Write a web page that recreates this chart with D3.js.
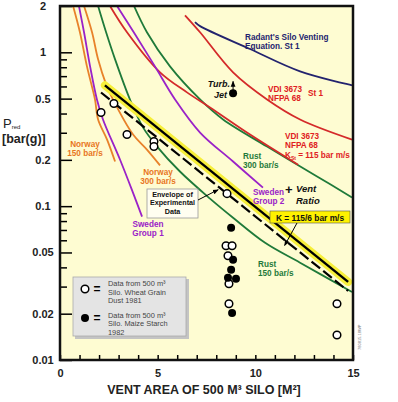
<!DOCTYPE html>
<html>
<head>
<meta charset="utf-8">
<script src="https://cdn.jsdelivr.net/npm/d3@7"></script>
<style>
body { margin: 0; background: #fff; }
text { font-family: Arial, "Liberation Sans", sans-serif; }
</style>
</head>
<body>
<svg id="chart" width="398" height="402"></svg>
<script>
// curves, pairs of [vent area m2, Pred bar(g)]
const norway150 = [[0.67, 2.0], [1.02, 1.35], [1.38, 0.81], [1.79, 0.494], [1.95, 0.366], [2.41, 0.271], [2.82, 0.195]];
const swedenGroup1 = [[0.97, 2.0], [1.23, 1.35], [1.54, 0.81], [1.89, 0.494], [2.2, 0.366], [3.07, 0.201], [3.74, 0.122], [4.2, 0.0855]];
const norway300 = [[1.23, 2.0], [1.64, 1.35], [1.95, 0.9], [2.36, 0.619], [2.71, 0.494], [3.74, 0.292], [4.45, 0.233], [5.12, 0.184]];
const rust150 = [[1.95, 2.0], [2.36, 1.35], [2.82, 0.9], [3.58, 0.494], [4.25, 0.325], [4.97, 0.244], [6.14, 0.168], [7.68, 0.112], [8.86, 0.0841], [10.5, 0.0578], [12.29, 0.0429], [14.95, 0.0277]];
const rust300 = [[3.79, 2.0], [4.45, 1.35], [5.63, 0.81], [7.17, 0.494], [8.35, 0.366], [10.6, 0.244], [13.16, 0.156], [14.95, 0.114]];
const vdiKst115 = [[2.56, 2.0], [3.43, 1.35], [5.12, 0.741], [6.5, 0.549], [7.68, 0.438], [9.73, 0.292], [12.19, 0.186]];
const swedenGroup2 = [[2.92, 2.0], [3.84, 1.31], [4.86, 0.81], [5.89, 0.494], [7.17, 0.301], [8.86, 0.195], [10.39, 0.132]];
const vdiSt1 = [[6.4, 1.74], [7.17, 1.35], [8.86, 0.741], [10.6, 0.494], [12.29, 0.366], [14.95, 0.271]];
const radant = [[6.91, 1.57], [7.17, 1.48], [9.73, 1.05], [12.29, 0.752], [14.95, 0.61]];

// straight lines
const kLine = [[2.3, 0.61], [14.75, 0.0322]];
const envelope = [[2.1, 0.548], [14.75, 0.0281]];

// test points
const wheatDust1981 = [[2.1, 0.406], [2.76, 0.465], [3.43, 0.292], [4.81, 0.263], [4.81, 0.244], [8.55, 0.1206],
  [8.5, 0.0553], [8.81, 0.0553], [8.6, 0.0476], [8.65, 0.0313], [8.65, 0.0232], [14.18, 0.0232], [14.18, 0.01455]];
const maizeStarch1982 = [[8.76, 0.0724], [8.86, 0.0448], [8.76, 0.0386], [8.6, 0.0342], [9.01, 0.0337], [8.81, 0.0202]];
const turbJet = [[8.86, 0.541]];

// ticks
const yMajor = [0.01, 0.02, 0.05, 0.1, 0.2, 0.5, 1, 2];
const yMinor = [0.03, 0.04, 0.06, 0.07, 0.08, 0.09, 0.3, 0.4, 0.6, 0.7, 0.8, 0.9];
const xTicks = d3.range(0, 16);

const svg = d3.select("#chart");
const pl = 60, pr = 353, pt = 6, pb = 360;

const x = d3.scaleLinear().domain([0, 15]).range([pl, pr]);
const y = d3.scaleLog().domain([0.01, 2]).range([pb, pt]);

// plot background
svg.append("rect")
  .attr("x", pl).attr("y", pt)
  .attr("width", pr - pl).attr("height", pb - pt)
  .attr("fill", "#fefcd2");

svg.append("clipPath").attr("id", "plotclip")
  .append("rect")
  .attr("x", pl).attr("y", pt)
  .attr("width", pr - pl).attr("height", pb - pt);

const plot = svg.append("g").attr("clip-path", "url(#plotclip)");

// y axis, ticks pointing inward
svg.append("g")
  .attr("transform", "translate(" + pl + ",0)")
  .call(d3.axisLeft(y).tickValues(yMinor).tickSizeInner(-7).tickSizeOuter(0).tickFormat(""))
  .call(g => g.select(".domain").remove())
  .call(g => g.selectAll("line").attr("stroke", "#000").attr("stroke-width", 1.5));

svg.append("g")
  .attr("transform", "translate(" + pl + ",0)")
  .call(d3.axisLeft(y).tickValues(yMajor).tickSizeInner(-12).tickSizeOuter(0).tickPadding(17).tickFormat(d3.format("")))
  .call(g => g.select(".domain").remove())
  .call(g => g.selectAll("line").attr("stroke", "#000").attr("stroke-width", 1.5))
  .call(g => g.selectAll("text")
    .attr("text-anchor", "middle")
    .attr("font-size", 11).attr("font-weight", "bold").attr("fill", "#222"));

// x axis
svg.append("g")
  .attr("transform", "translate(0," + pb + ")")
  .call(d3.axisBottom(x).tickValues(xTicks).tickSizeInner(-5).tickSizeOuter(0).tickPadding(9)
    .tickFormat(d => d % 5 === 0 ? d : ""))
  .call(g => g.select(".domain").remove())
  .call(g => g.selectAll("line").attr("stroke", "#000").attr("stroke-width", 1.5))
  .call(g => g.selectAll("text")
    .attr("font-size", 11).attr("font-weight", "bold").attr("fill", "#222"));

const line = d3.line()
  .x(d => x(d[0]))
  .y(d => y(d[1]))
  .curve(d3.curveCatmullRom);

// function to draw one curve
function drawcurve(data, color) {
  plot.append("path")
    .attr("d", line(data))
    .attr("fill", "none")
    .attr("stroke", color)
    .attr("stroke-width", 1.8);
}

drawcurve(norway150, "#e8822a");
drawcurve(swedenGroup1, "#9a22c8");
drawcurve(norway300, "#e8822a");
drawcurve(rust150, "#1f7a3a");
drawcurve(rust300, "#1f7a3a");
drawcurve(vdiKst115, "#d42a2a");
drawcurve(swedenGroup2, "#9a22c8");
drawcurve(vdiSt1, "#d42a2a");
drawcurve(radant, "#23236e");

// yellow highlight behind the K line
const straight = d3.line().x(d => x(d[0])).y(d => y(d[1]));
plot.append("path")
  .attr("d", straight(kLine))
  .attr("fill", "none")
  .attr("stroke", "#f7ef3a")
  .attr("stroke-width", 8)
  .attr("stroke-linecap", "round");
plot.append("path")
  .attr("d", straight(kLine))
  .attr("fill", "none")
  .attr("stroke", "#000")
  .attr("stroke-width", 2.4);
plot.append("path")
  .attr("d", straight(envelope))
  .attr("fill", "none")
  .attr("stroke", "#000")
  .attr("stroke-width", 2.2)
  .attr("stroke-dasharray", "11,4");

// points
plot.selectAll(".open")
  .data(wheatDust1981)
  .enter().append("circle")
  .attr("cx", d => x(d[0]))
  .attr("cy", d => y(d[1]))
  .attr("r", 3.8)
  .attr("fill", "#fff")
  .attr("stroke", "#000")
  .attr("stroke-width", 1.5);
plot.selectAll(".filled")
  .data(maizeStarch1982.concat(turbJet))
  .enter().append("circle")
  .attr("cx", d => x(d[0]))
  .attr("cy", d => y(d[1]))
  .attr("r", 4)
  .attr("fill", "#000");

// arrow marker
svg.append("defs").append("marker")
  .attr("id", "arrow")
  .attr("viewBox", "0 0 10 10")
  .attr("refX", 9).attr("refY", 5)
  .attr("markerWidth", 6).attr("markerHeight", 6)
  .attr("orient", "auto")
  .append("path")
  .attr("d", "M0,1 L10,5 L0,9 z")
  .attr("fill", "#000");

// function to write a block of lines
function writelabel(lines, px, py, color, size, anchor, style, lh) {
  const t = svg.append("text")
    .attr("x", px).attr("y", py)
    .attr("fill", color)
    .attr("font-size", size)
    .attr("font-weight", "bold")
    .attr("font-style", style || "normal")
    .attr("text-anchor", anchor || "start");
  lines.forEach((l, i) => {
    t.append("tspan").attr("x", px).attr("dy", i === 0 ? 0 : (lh || size * 1.15)).text(l);
  });
  return t;
}

writelabel(["Radant's Silo Venting", "Equation. St 1"], 245, 40, "#23236e", 8.2);
writelabel(["VDI 3673", "NFPA 68"], 268, 92, "#e0201e", 8.2);
writelabel(["St 1"], 308, 96, "#e0201e", 8.2);
writelabel(["VDI 3673", "NFPA 68"], 285, 139, "#e0201e", 8.2);
svg.append("text")
  .attr("x", 285).attr("y", 157.5)
  .attr("fill", "#e0201e").attr("font-size", 8.2).attr("font-weight", "bold")
  .text("K")
  .append("tspan").attr("font-size", 5).attr("dy", 2).text("St")
  .append("tspan").attr("font-size", 8.2).attr("dy", -2).text(" = 115 bar m/s");
writelabel(["Rust", "300 bar/s"], 243, 159, "#1f7a3a", 8.2);
writelabel(["Rust", "150 bar/s"], 258, 267, "#1f7a3a", 8.2);
writelabel(["Sweden", "Group 2"], 253, 195, "#9a22c8", 8.2);
writelabel(["Sweden", "Group 1"], 148, 227, "#9a22c8", 8.2, "middle");
writelabel(["Norway", "150 bar/s"], 85, 147, "#e8761e", 8.2, "middle");
writelabel(["Norway", "300 bar/s"], 158, 175, "#e8761e", 8.2, "middle");
writelabel(["Turb."], 230, 87, "#111", 9, "end", "italic");
writelabel(["Jet"], 227, 98, "#111", 9, "end", "italic");
svg.append("line")
  .attr("x1", x(turbJet[0][0])).attr("y1", y(turbJet[0][1]) - 3)
  .attr("x2", x(turbJet[0][0])).attr("y2", y(turbJet[0][1]) - 12)
  .attr("stroke", "#000").attr("stroke-width", 1)
  .attr("marker-end", "url(#arrow)");

// vent ratio
svg.append("text")
  .attr("x", 285).attr("y", 194)
  .attr("font-size", 13).attr("font-weight", "bold").attr("fill", "#111")
  .text("+");
writelabel(["Vent"], 296, 192, "#111", 9.5, "start", "italic");
writelabel(["Ratio"], 296, 204, "#111", 9.5, "start", "italic");

// K box
svg.append("rect")
  .attr("x", 270).attr("y", 211)
  .attr("width", 80).attr("height", 12)
  .attr("fill", "#fff200")
  .attr("stroke", "#555").attr("stroke-width", 0.6);
writelabel(["K = 115/6 bar m/s"], 310, 220.5, "#111", 8.4, "middle");
svg.append("line")
  .attr("x1", 297).attr("y1", 223)
  .attr("x2", x(11.5)).attr("y2", y(0.0555))
  .attr("stroke", "#000").attr("stroke-width", 1)
  .attr("marker-end", "url(#arrow)");

// envelope box
svg.append("rect")
  .attr("x", 147).attr("y", 189)
  .attr("width", 51).attr("height", 29)
  .attr("fill", "#fffef0")
  .attr("stroke", "#999").attr("stroke-width", 0.8);
writelabel(["Envelope of", "Experimental", "Data"], 172.5, 196.5, "#111", 7.2, "middle", "normal", 8.5);
svg.append("line")
  .attr("x1", 198).attr("y1", 200)
  .attr("x2", x(8.1)).attr("y2", y(0.128))
  .attr("stroke", "#000").attr("stroke-width", 1)
  .attr("marker-end", "url(#arrow)");

// legend box
svg.append("rect")
  .attr("x", 75).attr("y", 279)
  .attr("width", 114).attr("height", 60)
  .attr("fill", "#c4c4c4");
svg.append("rect")
  .attr("x", 73).attr("y", 277)
  .attr("width", 113).attr("height", 59)
  .attr("fill", "#e4e4e4")
  .attr("stroke", "#aaa").attr("stroke-width", 0.8);
svg.append("circle").attr("cx", 85).attr("cy", 289).attr("r", 3.8)
  .attr("fill", "#fff").attr("stroke", "#000").attr("stroke-width", 1.5);
svg.append("circle").attr("cx", 85).attr("cy", 318).attr("r", 4).attr("fill", "#000");
svg.append("text").attr("x", 97).attr("y", 293).attr("font-size", 12).attr("font-weight", "bold").attr("text-anchor", "middle").text("=");
svg.append("text").attr("x", 97).attr("y", 322).attr("font-size", 12).attr("font-weight", "bold").attr("text-anchor", "middle").text("=");
const legendLines = [["Data from 500 m³", "Silo. Wheat Grain", "Dust 1981"], ["Data from 500 m³", "Silo. Maize Starch", "1982"]];
legendLines.forEach((lines, k) => {
  const t = svg.append("text")
    .attr("x", 108).attr("y", k === 0 ? 286 : 317.5)
    .attr("font-size", 7.4).attr("fill", "#444");
  lines.forEach((l, i) => t.append("tspan").attr("x", 108).attr("dy", i === 0 ? 0 : 8.6).text(l));
});

// frame
svg.append("rect")
  .attr("x", pl).attr("y", pt)
  .attr("width", pr - pl).attr("height", pb - pt)
  .attr("fill", "none")
  .attr("stroke", "#111")
  .attr("stroke-width", 2.5);

// axis titles
const ytitle = svg.append("text")
  .attr("x", 3).attr("y", 128)
  .attr("font-size", 13).attr("fill", "#222")
  .text("P");
ytitle.append("tspan").attr("font-size", 6).attr("dy", 1).text("red");
svg.append("text")
  .attr("x", 2).attr("y", 143)
  .attr("font-size", 12.5).attr("font-weight", "bold").attr("fill", "#222")
  .text("[bar(g)]");
svg.append("text")
  .attr("x", 204).attr("y", 394)
  .attr("text-anchor", "middle")
  .attr("font-size", 12.5).attr("font-weight", "bold").attr("fill", "#222")
  .text("VENT AREA OF 500 M³ SILO [M²]");

// small drawing id on the right edge
svg.append("text")
  .attr("transform", "translate(361,350) rotate(-90)")
  .attr("font-size", 4).attr("fill", "#777")
  .text("780815.18WP");
</script>
</body>
</html>
